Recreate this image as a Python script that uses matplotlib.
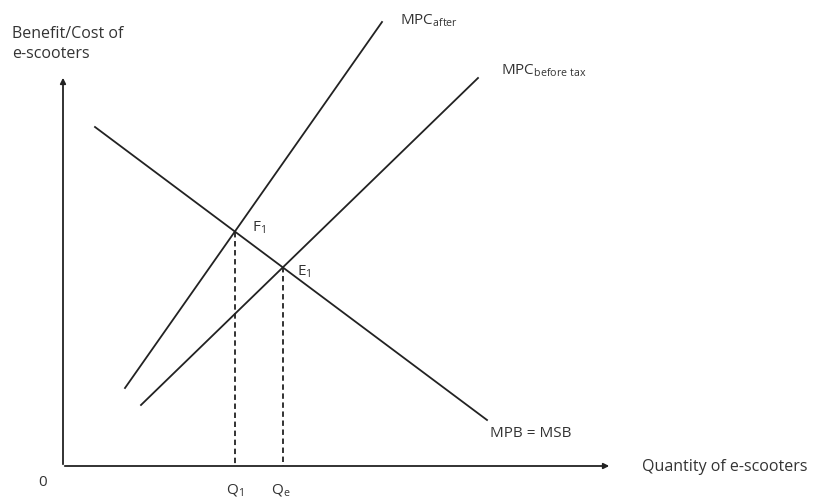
import matplotlib.pyplot as plt
import numpy as np

plt.rcParams['font.family'] = ['Open Sans', 'DejaVu Sans']
plt.rcParams['mathtext.default'] = 'regular'

# schematic diagram, values in picture units (x right, y down)
mpc_after = [(125, 388), (382, 22)]
mpc_before = [(141, 405), (478, 78)]
mpb = [(95, 127), (487, 420)]
origin = (63, 466)
x_end = 612
y_end = 75


def intersect(a, b):
    (x1, y1), (x2, y2) = a
    (x3, y3), (x4, y4) = b
    m1 = (y2 - y1) / (x2 - x1)
    m2 = (y4 - y3) / (x4 - x3)
    x = (y3 - y1 + m1 * x1 - m2 * x3) / (m1 - m2)
    return x, y1 + m1 * (x - x1)


fig = plt.figure(figsize=(8.19, 4.98), dpi=100)
ax = fig.add_axes([0, 0, 1, 1])
ax.set_xlim(0, 819)
ax.set_ylim(498, 0)
ax.axis('off')

lw = 1.3
for seg in (mpc_after, mpc_before, mpb):
    xs, ys = zip(*seg)
    ax.plot(xs, ys, color='#222222', lw=lw)

# axes with arrows
ax.annotate('', xy=(x_end, origin[1]), xytext=(origin[0] - 1, origin[1]),
            arrowprops=dict(arrowstyle='-|>', color='#222222', lw=lw, mutation_scale=8))
ax.annotate('', xy=(origin[0], y_end), xytext=(origin[0], origin[1] + 1),
            arrowprops=dict(arrowstyle='-|>', color='#222222', lw=lw, mutation_scale=8))

f1 = intersect(mpc_after, mpb)
e1 = intersect(mpc_before, mpb)
for p in (f1, e1):
    ax.plot([p[0], p[0]], [p[1], origin[1]], color='#222222', lw=lw, ls=(0, (3, 2)))

fs = 11
c = '#333333'
ax.text(f1[0] + 17, f1[1] - 4, 'F$_1$', fontsize=fs, color=c, va='center')
ax.text(e1[0] + 14, e1[1] + 4, 'E$_1$', fontsize=fs, color=c, va='center')
ax.text(f1[0], 490, 'Q$_1$', fontsize=fs, color=c, ha='center', va='center')
ax.text(e1[0] - 2, 490, 'Q$_e$', fontsize=fs, color=c, ha='center', va='center')
ax.text(43, 482, '0', fontsize=fs, color=c, ha='center', va='center')
ax.text(642, 467, 'Quantity of e-scooters', fontsize=11.5, color=c, va='center')
ax.text(12, 44, 'Benefit/Cost of\ne-scooters', fontsize=11.5, color=c, va='center',
        linespacing=1.4)
ax.text(490, 433, 'MPB = MSB', fontsize=fs, color=c, va='center')
ax.text(400, 21, 'MPC$_{after}$', fontsize=fs, color=c, va='center')
ax.text(501, 71, 'MPC$_{before\\ tax}$', fontsize=fs, color=c, va='center')

fig.savefig('out.png', dpi=100)
